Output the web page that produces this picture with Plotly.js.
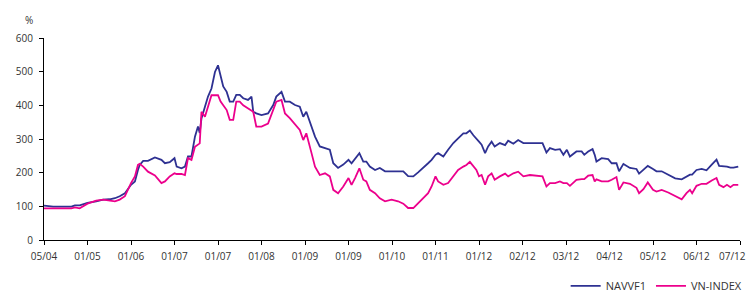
<!DOCTYPE html>
<html>
<head>
<meta charset="utf-8">
<script src="https://cdn.plot.ly/plotly-3.0.1.min.js"></script>
<style>html,body{margin:0;padding:0;background:#fff;}#chart{width:747px;height:293px;}</style>
</head>
<body>
<div id="chart"></div>
<script>
// x tick labels (evenly spaced categories as printed on the axis)
const tickLabels = ["05/04","01/05","01/06","01/07","01/07","01/08","01/09","01/09","01/10","01/11","01/12","02/12","03/12","04/12","05/12","06/12","07/12"];

// position along the axis, in tick intervals
const period = [0,0.21,0.63,0.71,0.82,1.0,1.2,1.36,1.51,1.63,1.74,1.86,2.0,2.09,2.16,2.2,2.28,2.39,2.55,2.7,2.78,2.89,3.0,3.05,3.16,3.24,3.31,3.39,3.47,3.54,3.58,3.62,3.7,3.77,3.85,3.93,4.0,4.06,4.12,4.2,4.27,4.35,4.42,4.5,4.58,4.69,4.77,4.81,4.88,5.0,5.15,5.27,5.34,5.46,5.54,5.65,5.77,5.88,5.96,6.03,6.15,6.23,6.34,6.46,6.57,6.65,6.76,6.88,7.0,7.07,7.15,7.25,7.34,7.41,7.49,7.61,7.72,7.84,7.99,8.14,8.26,8.37,8.49,8.6,8.72,8.83,8.91,9.0,9.06,9.18,9.29,9.41,9.52,9.64,9.71,9.79,9.87,9.94,10.0,10.06,10.14,10.21,10.29,10.36,10.48,10.6,10.67,10.79,10.9,11.02,11.17,11.33,11.46,11.55,11.63,11.75,11.86,11.94,12.02,12.09,12.24,12.36,12.42,12.51,12.61,12.66,12.7,12.82,12.97,13.05,13.16,13.22,13.32,13.47,13.62,13.68,13.78,13.88,14.0,14.08,14.2,14.35,14.51,14.66,14.77,14.85,14.9,15.0,15.12,15.23,15.35,15.46,15.52,15.62,15.7,15.78,15.85,15.96];

const navvf1 = [102,99,99,103,103,110,115,120,121,124,130,139,164,174,208,223,235,235,245,238,228,231,243,218,213,218,248,248,307,337,318,361,396,426,450,499,519,490,456,440,411,411,431,431,421,416,426,381,376,371,376,401,426,440,411,411,401,396,366,381,337,307,278,273,268,228,214,224,238,228,243,258,233,233,218,208,214,204,204,204,204,190,189,201,214,228,238,253,258,248,268,288,302,317,317,325,311,302,292,283,258,278,292,278,288,282,295,286,297,288,288,288,288,260,273,268,270,253,268,248,263,263,253,263,270,253,233,243,240,228,228,204,226,214,211,197,208,220,211,204,204,193,183,180,189,194,194,208,211,207,224,239,220,220,218,215,215,218];

const vnindex = [94,94,94,97,94,108,117,120,118,115,120,130,169,189,223,226,218,203,192,169,174,189,198,196,196,193,243,238,277,282,287,381,366,396,430,430,430,411,400,386,357,357,411,411,400,391,386,381,337,337,346,386,411,416,376,362,342,327,297,317,258,218,193,198,189,149,139,159,184,164,184,213,179,174,149,139,124,115,120,115,108,95,95,110,124,139,159,189,174,164,169,189,208,218,223,232,218,208,189,193,164,189,198,179,189,197,189,198,203,189,193,191,189,159,169,169,174,169,169,161,179,181,181,191,193,174,180,174,174,179,187,149,171,167,155,139,151,171,149,144,149,141,131,121,139,149,139,161,167,167,177,184,164,157,164,157,164,164];

const seriesNames = ["NAVVF1","VN-INDEX"];
const seriesColors = ["#2E3192","#EC008C"];

const axisFont = {family: "Open Sans, DejaVu Sans, sans-serif", size: 10, color: "#333"};

const traces = [navvf1, vnindex].map((vals, i) => ({
  type: "scatter",
  mode: "lines",
  x: period,
  y: vals,
  name: seriesNames[i],
  line: {color: seriesColors[i], width: 1.8},
  hoverinfo: "skip"
}));

const lastIdx = tickLabels.length - 1;

const layout = {
  width: 747,
  height: 293,
  margin: {l: 44, r: 7, t: 37.5, b: 52.5, autoexpand: false},
  paper_bgcolor: "#ffffff",
  plot_bgcolor: "#ffffff",
  showlegend: true,
  legend: {
    orientation: "h",
    x: 1.011, xanchor: "right",
    y: -0.155, yanchor: "top",
    font: {family: "Open Sans, DejaVu Sans, sans-serif", size: 11, color: "#333"},
    bgcolor: "rgba(0,0,0,0)",
    itemwidth: 30,
    tracegroupgap: 0
  },
  xaxis: {
    range: [0, lastIdx],
    tickmode: "array",
    tickvals: tickLabels.map((_, i) => i),
    // last label is drawn as an annotation so it stays inside the page
    ticktext: tickLabels.map((t, i) => i === lastIdx ? "" : t),
    showline: true, linecolor: "#000", linewidth: 1,
    ticks: "outside", ticklen: 4, tickcolor: "#000", tickwidth: 1,
    ticklabelstandoff: 3,
    showgrid: false, zeroline: false,
    tickfont: axisFont,
    automargin: false,
    fixedrange: true
  },
  yaxis: {
    range: [0, 600],
    tickmode: "linear", tick0: 0, dtick: 100,
    showline: true, linecolor: "#000", linewidth: 1,
    ticks: "outside", ticklen: 4, tickcolor: "#000", tickwidth: 1,
    ticklabelstandoff: 4,
    showgrid: false, zeroline: false,
    tickfont: axisFont,
    automargin: false,
    fixedrange: true
  },
  annotations: [{
    text: "%",
    xref: "paper", yref: "paper",
    x: -0.022, y: 1.09,
    xanchor: "center", yanchor: "middle",
    showarrow: false,
    font: axisFont
  }, {
    text: tickLabels[lastIdx],
    xref: "x", yref: "paper",
    x: lastIdx, y: 0,
    xanchor: "right", yanchor: "middle",
    xshift: 7, yshift: -16,
    borderpad: 0,
    showarrow: false,
    font: axisFont
  }]
};

Plotly.newPlot("chart", traces, layout, {displayModeBar: false, staticPlot: true});
</script>
</body>
</html>
